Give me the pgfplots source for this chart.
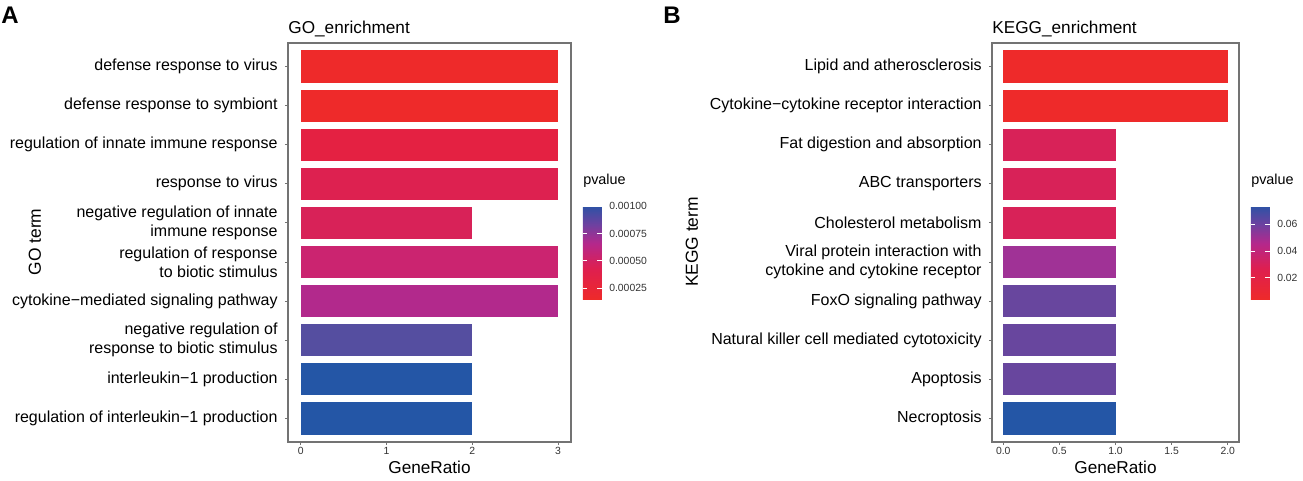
\documentclass[border=0pt]{standalone}
\usepackage{pgfplots}
\pgfplotsset{compat=1.18}
\usepackage{fontspec}
\setmainfont{Liberation Sans}

% bar fills
\definecolor{cRed}{RGB}{238,42,42}
\definecolor{cCr1}{RGB}{228,33,66}
\definecolor{cCr2}{RGB}{221,33,80}
\definecolor{cCr3}{RGB}{216,34,88}
\definecolor{cPink}{RGB}{203,36,112}
\definecolor{cMag}{RGB}{178,41,140}
\definecolor{cVio}{RGB}{160,50,150}
\definecolor{cPur}{RGB}{104,70,158}
\definecolor{cSlate}{RGB}{85,78,160}
\definecolor{cBlue}{RGB}{36,86,166}
\definecolor{frame}{RGB}{115,115,115}
\definecolor{tickt}{RGB}{50,50,50}

\pgfplotsset{
  colormap={pv}{rgb255(0pt)=(238,42,42); rgb255(33pt)=(222,31,80); rgb255(60pt)=(180,40,140); rgb255(80pt)=(110,65,160); rgb255(100pt)=(45,82,165)},
  enrich/.style={
    scale only axis,
    height=199.5pt,
    /pgf/number format/assume math mode=true,
    axis line style={draw=frame, line width=0.6pt},
    tick style={draw=frame, line width=0.5pt},
    tick align=outside,
    major tick length=1.6pt,
    xtick pos=bottom, ytick pos=left,
    ymin=0.4, ymax=10.6,
    ytick={1,...,10},
    xbar, bar width=0.82, bar shift=0pt,
    yticklabel style={font=\fontsize{8}{9.5}\selectfont, align=right, text=black, inner sep=0pt, xshift=-3.4pt},
    xticklabel style={font=\fontsize{5.2}{6}\selectfont, text=tickt, inner sep=1pt},
    colormap name=pv,
    colorbar,
  },
  cbar/.style={
    width=9.5pt, height=46.5pt,
    at={(parent axis.east)}, anchor=west, xshift=-2.6pt, yshift=-5pt,
    axis line style={draw=none},
    ytick style={draw=white, line width=0.5pt},
    major tick length=2.2pt,
    tick align=inside,
    ytick pos=both, yticklabel pos=right,
    yticklabel style={font=\fontsize{5.2}{6}\selectfont, text=tickt, inner sep=1pt, xshift=2.5pt},
    scaled y ticks=false,
    title=pvalue,
    title style={font=\fontsize{7.2}{8}\selectfont, at={(0,1)}, anchor=base west, inner sep=0pt, yshift=4.8pt},
  },
}

\begin{document}
\begin{tikzpicture}
\useasboundingbox (0,0) rectangle (651.5pt,-240.5pt);

% ---------- A: GO ----------
\begin{axis}[enrich,
  at={(144pt,-21.5pt)}, anchor=north west,
  width=141.5pt,
  xmin=-0.15, xmax=3.15,
  xtick={0,1,2,3},
  xticklabels={0,1,2,3},
  yticklabels={
    regulation of interleukin−1 production,
    interleukin−1 production,
    {negative regulation of\\response to biotic stimulus},
    cytokine−mediated signaling pathway,
    {regulation of response\\to biotic stimulus},
    {negative regulation of innate\\immune response},
    response to virus,
    regulation of innate immune response,
    defense response to symbiont,
    defense response to virus},
  point meta min=0.00015, point meta max=0.001003,
  colorbar style={cbar,
    ytick={0.00025,0.0005,0.00075,0.001},
    yticklabels={0.00025,0.00050,0.00075,0.00100}},
]
\addplot[fill=cRed, draw=none] coordinates {(3,10)};
\addplot[fill=cRed, draw=none] coordinates {(3,9)};
\addplot[fill=cCr1, draw=none] coordinates {(3,8)};
\addplot[fill=cCr2, draw=none] coordinates {(3,7)};
\addplot[fill=cCr3, draw=none] coordinates {(2,6)};
\addplot[fill=cPink, draw=none] coordinates {(3,5)};
\addplot[fill=cMag, draw=none] coordinates {(3,4)};
\addplot[fill=cSlate, draw=none] coordinates {(2,3)};
\addplot[fill=cBlue, draw=none] coordinates {(2,2)};
\addplot[fill=cBlue, draw=none] coordinates {(2,1)};
\end{axis}

% ---------- B: KEGG ----------
\begin{axis}[enrich,
  at={(496pt,-21.5pt)}, anchor=north west,
  width=123.5pt,
  xmin=-0.1, xmax=2.1,
  xtick={0,0.5,1,1.5,2},
  xticklabels={0.0,0.5,1.0,1.5,2.0},
  yticklabels={
    Necroptosis,
    Apoptosis,
    Natural killer cell mediated cytotoxicity,
    FoxO signaling pathway,
    {Viral protein interaction with\\cytokine and cytokine receptor},
    Cholesterol metabolism,
    ABC transporters,
    Fat digestion and absorption,
    Cytokine−cytokine receptor interaction,
    Lipid and atherosclerosis},
  point meta min=0.0043, point meta max=0.0735,
  colorbar style={cbar,
    ytick={0.02,0.04,0.06},
    yticklabels={0.02,0.04,0.06}},
]
\addplot[fill=cRed, draw=none] coordinates {(2,10)};
\addplot[fill=cRed, draw=none] coordinates {(2,9)};
\addplot[fill=cCr3, draw=none] coordinates {(1,8)};
\addplot[fill=cCr3, draw=none] coordinates {(1,7)};
\addplot[fill=cCr3, draw=none] coordinates {(1,6)};
\addplot[fill=cVio, draw=none] coordinates {(1,5)};
\addplot[fill=cPur, draw=none] coordinates {(1,4)};
\addplot[fill=cPur, draw=none] coordinates {(1,3)};
\addplot[fill=cPur, draw=none] coordinates {(1,2)};
\addplot[fill=cBlue, draw=none] coordinates {(1,1)};
\end{axis}

% panel letters, titles, axis titles
\node[anchor=base west, inner sep=0pt, font=\fontsize{12}{14}\selectfont\bfseries] at (0.5pt,-12pt) {A};
\node[anchor=base west, inner sep=0pt, font=\fontsize{12}{14}\selectfont\bfseries] at (331.5pt,-12pt) {B};
\node[anchor=base west, inner sep=0pt, font=\fontsize{8.6}{10}\selectfont] at (144pt,-16.6pt) {GO\_enrichment};
\node[anchor=base west, inner sep=0pt, font=\fontsize{8.6}{10}\selectfont] at (496pt,-16.6pt) {KEGG\_enrichment};
\node[rotate=90, inner sep=0pt, font=\fontsize{8.7}{10}\selectfont] at (17.5pt,-121pt) {GO term};
\node[rotate=90, inner sep=0pt, font=\fontsize{8.7}{10}\selectfont] at (346pt,-121pt) {KEGG term};
\node[inner sep=0pt, font=\fontsize{8.6}{10}\selectfont] at (214.75pt,-233.5pt) {GeneRatio};
\node[inner sep=0pt, font=\fontsize{8.6}{10}\selectfont] at (557.75pt,-233.5pt) {GeneRatio};
\end{tikzpicture}
\end{document}
